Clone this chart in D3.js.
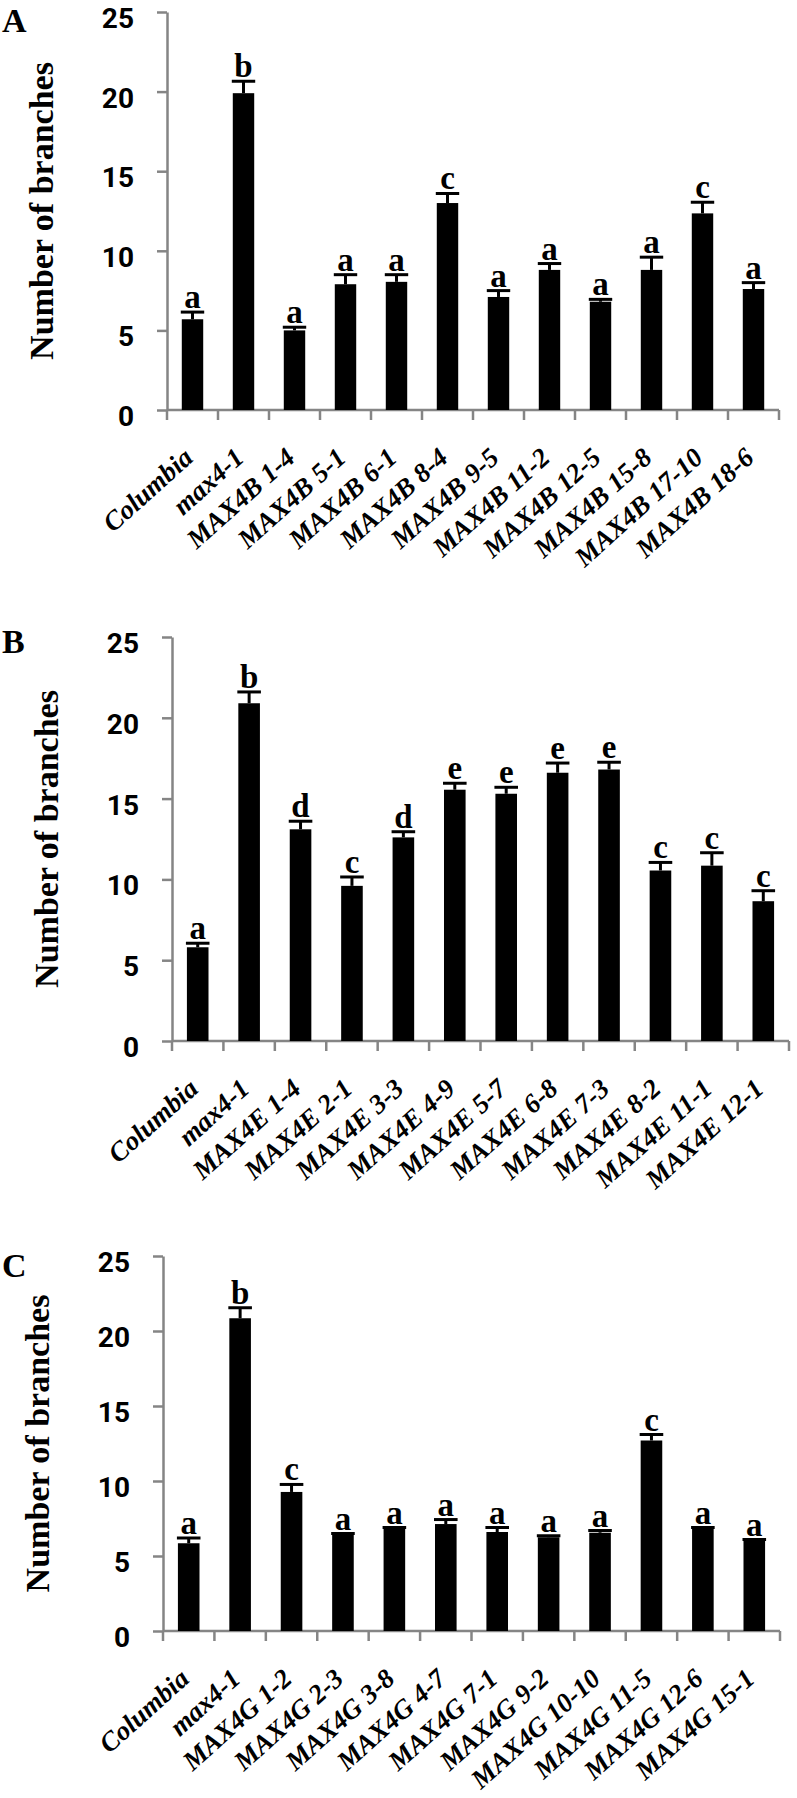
<!DOCTYPE html>
<html>
<head>
<meta charset="utf-8">
<script src="https://cdn.jsdelivr.net/npm/d3@7"></script>
<style>
    body { margin: 0; background: #fff; }
    svg { display: block; }
</style>
</head>
<body>
<svg id="chart" width="797" height="1798"></svg>
<script>
// Branch counts for MAX4 transgenic lines (three panels)

const yTicks = [0, 5, 10, 15, 20, 25];

// Panel A - MAX4B lines
const categoriesA = ['Columbia', 'max4-1', 'MAX4B 1-4', 'MAX4B 5-1', 'MAX4B 6-1', 'MAX4B 8-4',
    'MAX4B 9-5', 'MAX4B 11-2', 'MAX4B 12-5', 'MAX4B 15-8', 'MAX4B 17-10', 'MAX4B 18-6'];
const valuesA = [5.7, 19.9, 5.0, 7.9, 8.05, 13.0, 7.1, 8.8, 6.8, 8.8, 12.35, 7.6];
const errorsA = [0.45, 0.75, 0.2, 0.6, 0.45, 0.6, 0.4, 0.4, 0.15, 0.8, 0.7, 0.4];
const groupsA = ['a', 'b', 'a', 'a', 'a', 'c', 'a', 'a', 'a', 'a', 'c', 'a'];

// Panel B - MAX4E lines
const categoriesB = ['Columbia', 'max4-1', 'MAX4E 1-4', 'MAX4E 2-1', 'MAX4E 3-3', 'MAX4E 4-9',
    'MAX4E 5-7', 'MAX4E 6-8', 'MAX4E 7-3', 'MAX4E 8-2', 'MAX4E 11-1', 'MAX4E 12-1'];
const valuesB = [5.8, 20.9, 13.1, 9.6, 12.6, 15.55, 15.3, 16.6, 16.8, 10.55, 10.85, 8.65];
const errorsB = [0.25, 0.7, 0.5, 0.55, 0.35, 0.4, 0.4, 0.6, 0.45, 0.5, 0.8, 0.65];
const groupsB = ['a', 'b', 'd', 'c', 'd', 'e', 'e', 'e', 'e', 'c', 'c', 'c'];

// Panel C - MAX4G lines
const categoriesC = ['Columbia', 'max4-1', 'MAX4G 1-2', 'MAX4G 2-3', 'MAX4G 3-8', 'MAX4G 4-7',
    'MAX4G 7-1', 'MAX4G 9-2', 'MAX4G 10-10', 'MAX4G 11-5', 'MAX4G 12-6', 'MAX4G 15-1'];
const valuesC = [5.85, 20.85, 9.27, 6.4, 6.8, 7.13, 6.6, 6.25, 6.55, 12.7, 6.8, 6.0];
const errorsC = [0.35, 0.7, 0.5, 0.1, 0.1, 0.3, 0.3, 0.1, 0.15, 0.4, 0.1, 0.1];
const groupsC = ['a', 'b', 'c', 'a', 'a', 'a', 'a', 'a', 'a', 'c', 'a', 'a'];

const svg = d3.select('#chart');

const AXIS_GREY = '#858585';
const SERIF = '"Liberation Serif", "Times New Roman", serif';
const SANS = 'Roboto, "Liberation Sans", sans-serif';

function drawPanel(p) {
    const g = svg.append('g');

    const x = d3.scaleBand()
        .domain(p.categories)
        .range([p.left, p.right])
        .padding(0);

    const y = d3.scaleLinear()
        .domain([0, 25])
        .range([p.bottom, p.top]);

    const step = x.bandwidth();
    const barW = step * 0.42;
    const capW = barW + 2;

    // Y axis
    const yAxis = g.append('g')
        .attr('transform', `translate(${p.left},0)`)
        .call(d3.axisLeft(y).tickValues(yTicks).tickSize(10).tickSizeOuter(0).tickPadding(23));
    yAxis.select('.domain').attr('stroke', AXIS_GREY).attr('stroke-width', 2.5);
    yAxis.selectAll('.tick line').attr('stroke', AXIS_GREY).attr('stroke-width', 2.5);
    yAxis.selectAll('.tick text')
        .attr('fill', '#000')
        .attr('dy', '0.55em')
        .style('font-family', SANS)
        .style('font-weight', 'bold')
        .style('font-size', '28px');

    // X axis line + ticks at band boundaries
    const y0 = y(0);
    g.append('line')
        .attr('x1', p.left).attr('x2', p.right)
        .attr('y1', y0).attr('y2', y0)
        .attr('stroke', AXIS_GREY).attr('stroke-width', 2.5);

    const bounds = p.categories.map(c => x(c)).concat([p.right]);
    g.selectAll('.xtick')
        .data(bounds)
        .enter().append('line')
        .attr('x1', d => d).attr('x2', d => d)
        .attr('y1', y0).attr('y2', y0 + 10)
        .attr('stroke', AXIS_GREY).attr('stroke-width', 2.5);

    const rows = p.categories.map((c, i) => ({
        cat: c, value: p.values[i], err: p.errors[i], group: p.groups[i]
    }));

    // Bars
    g.selectAll('.bar')
        .data(rows)
        .enter().append('rect')
        .attr('x', d => x(d.cat) + (step - barW) / 2)
        .attr('y', d => y(d.value))
        .attr('width', barW)
        .attr('height', d => y0 - y(d.value))
        .attr('fill', '#000');

    // Error bars (upper half only)
    g.selectAll('.err')
        .data(rows)
        .enter().append('line')
        .attr('x1', d => x(d.cat) + step / 2)
        .attr('x2', d => x(d.cat) + step / 2)
        .attr('y1', d => y(d.value))
        .attr('y2', d => y(d.value + d.err))
        .attr('stroke', '#000').attr('stroke-width', 3);

    g.selectAll('.cap')
        .data(rows)
        .enter().append('line')
        .attr('x1', d => x(d.cat) + step / 2 - capW / 2)
        .attr('x2', d => x(d.cat) + step / 2 + capW / 2)
        .attr('y1', d => y(d.value + d.err))
        .attr('y2', d => y(d.value + d.err))
        .attr('stroke', '#000').attr('stroke-width', 3);

    // Significance letters
    g.selectAll('.grp')
        .data(rows)
        .enter().append('text')
        .attr('x', d => x(d.cat) + step / 2)
        .attr('y', d => y(d.value + d.err) - 4)
        .attr('text-anchor', 'middle')
        .style('font-family', SERIF)
        .style('font-weight', 'bold')
        .style('font-size', '33px')
        .text(d => d.group);

    // Category labels, rotated
    g.selectAll('.xlab')
        .data(rows)
        .enter().append('text')
        .attr('transform', d => `translate(${x(d.cat) + step / 2 + 2},${y0 + 50}) rotate(-42)`)
        .attr('text-anchor', 'end')
        .style('font-family', SERIF)
        .style('font-weight', 'bold')
        .style('font-style', 'italic')
        .style('font-size', '27px')
        .text(d => d.cat);

    // Y title
    g.append('text')
        .attr('transform', `translate(${p.left - 114},${(p.top + p.bottom) / 2}) rotate(-90)`)
        .attr('text-anchor', 'middle')
        .style('font-family', SERIF)
        .style('font-weight', 'bold')
        .style('font-size', '34px')
        .text('Number of branches');

    // Panel letter
    g.append('text')
        .attr('x', 2)
        .attr('y', p.letterY)
        .style('font-family', SERIF)
        .style('font-weight', 'bold')
        .style('font-size', '34px')
        .text(p.letter);
}

drawPanel({
    letter: 'A', letterY: 32,
    left: 167, right: 779, top: 12, bottom: 410,
    categories: categoriesA, values: valuesA, errors: errorsA, groups: groupsA
});

drawPanel({
    letter: 'B', letterY: 653,
    left: 172, right: 789, top: 637, bottom: 1041,
    categories: categoriesB, values: valuesB, errors: errorsB, groups: groupsB
});

drawPanel({
    letter: 'C', letterY: 1277,
    left: 163, right: 780, top: 1256, bottom: 1631,
    categories: categoriesC, values: valuesC, errors: errorsC, groups: groupsC
});
</script>
</body>
</html>
